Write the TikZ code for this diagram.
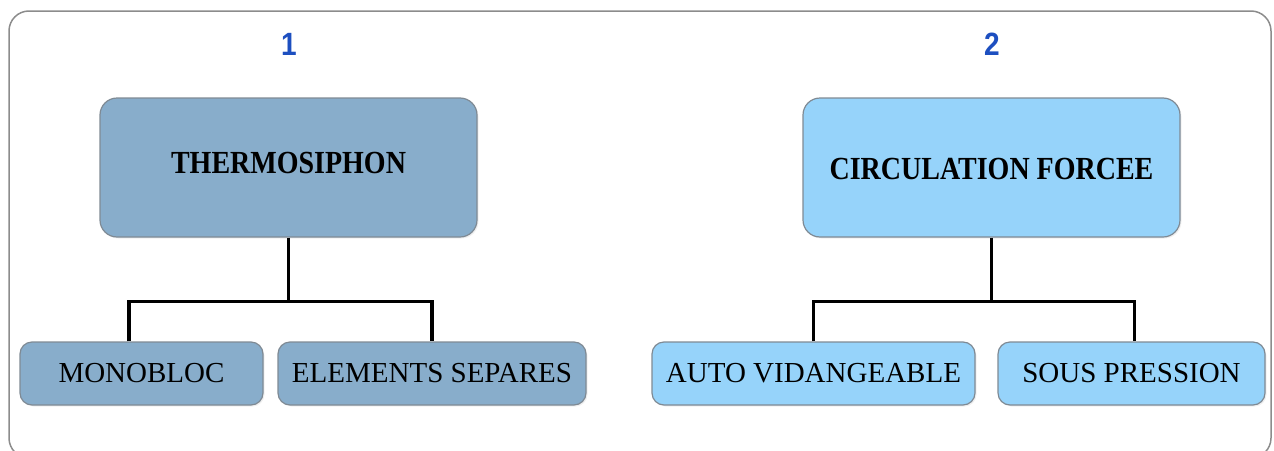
\documentclass[tikz,border=0pt]{standalone}
\usepackage{fontspec}
\setmainfont{Liberation Serif}
\newfontfamily\numfont{Liberation Sans}
\usetikzlibrary{shadows}
\definecolor{darkbox}{HTML}{88ADCB}
\definecolor{lightbox}{HTML}{96D3FA}
\definecolor{boxline}{HTML}{7F8A94}
\definecolor{numblue}{HTML}{1D4FC0}
\definecolor{framegray}{HTML}{8C8C8C}
\begin{document}
\begin{tikzpicture}[x=1pt,y=-1pt,
  box/.style={draw=boxline, line width=1.2pt, inner sep=0pt, align=center,
    drop shadow={opacity=0.12, shadow xshift=1.5pt, shadow yshift=-1.5pt}},
  topbox/.style={box, rounded corners=17pt, minimum height=139pt,
    font=\fontsize{28}{30}\selectfont\bfseries, text height=21pt},
  subbox/.style={box, rounded corners=12pt, minimum height=63pt,
    font=\fontsize{29}{31}\selectfont, text height=20pt, text depth=3pt},
  num/.style={inner sep=0pt, text=numblue, font=\numfont\fontsize{28}{30}\selectfont\bfseries,
    text height=23pt, text depth=0pt},
  conn/.style={draw=black, line width=3.5pt}]
\useasboundingbox (0,0) rectangle (1274,450);
\clip (0,0) rectangle (1274,450);
\draw[framegray, line width=1.5pt, rounded corners=20pt] (9,11) rectangle (1271,458);

\node[num] (n1) at (289,44) {\scalebox{1}[1.15]{1}};
\node[num] (n2) at (992,44) {\scalebox{1}[1.15]{2}};

\node[topbox, fill=darkbox, minimum width=377pt, text depth=10pt] (th) at (288.5,167.5) {\scalebox{1}[1.15]{THERMOSIPHON}};
\node[topbox, fill=lightbox, minimum width=377pt, text height=24pt, text depth=0pt] (cf) at (991.5,167.5) {\scalebox{1}[1.15]{CIRCULATION FORCEE}};

\node[subbox, fill=darkbox, minimum width=243pt] (mono) at (141.5,373.5) {MONOBLOC};
\node[subbox, fill=darkbox, minimum width=308pt] (els) at (432,373.5) {ELEMENTS SEPARES};
\node[subbox, fill=lightbox, minimum width=323pt] (auto) at (813.5,373.5) {AUTO VIDANGEABLE};
\node[subbox, fill=lightbox, minimum width=267pt] (sous) at (1131.5,373.5) {SOUS PRESSION};

\coordinate (j1) at (289,302);
\coordinate (j2) at (992,302);
\draw[conn] (th.south) -- (th.south |- j1);
\draw[conn] ([xshift=-12.5pt]mono.north) -- ++(0,-40) -| (els.north);
\draw[conn] (cf.south) -- (cf.south |- j2);
\draw[conn] (auto.north) -- ++(0,-40) -| ([xshift=3pt]sous.north);
\end{tikzpicture}
\end{document}
